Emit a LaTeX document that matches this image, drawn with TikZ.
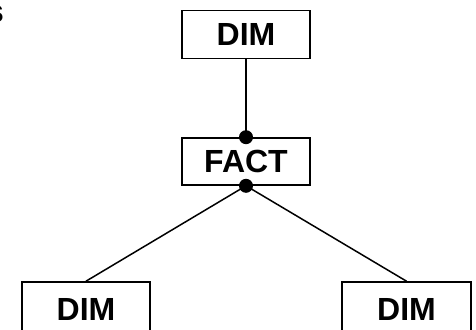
\documentclass[tikz,border=0pt]{standalone}
\usepackage{fontspec}
\setmainfont{Liberation Sans}
\begin{document}
\begin{tikzpicture}[x=1pt,y=-1pt,
  box/.style={draw,line width=1.6pt,minimum width=128pt,inner sep=0pt,font=\fontsize{32}{38}\selectfont\bfseries},
  link/.style={line width=1.5pt},
  dot/.style={circle,fill=black,minimum size=14pt,inner sep=0pt}]
\useasboundingbox (0,0) rectangle (476,329);
\node[box,minimum height=48pt] (top) at (246,34.5) {DIM};
\node[box,minimum height=47pt] (fact) at (246,161.5) {FACT};
\node[box,minimum height=54pt] (left) at (86,309) {DIM};
\node[box,minimum height=54pt,minimum width=129pt] (right) at (406.5,309) {DIM};
\node[anchor=base east,inner sep=0pt,font=\fontsize{32}{38}\selectfont\bfseries] (frag) at (4,23) {s};
\draw[link] (top.south) -- (fact.north);
\draw[link] (fact.south) -- (left.north);
\draw[link] (fact.south) -- (right.north);
\node[dot] (d1) at (fact.north) {};
\node[dot] (d2) at (fact.south) {};
\end{tikzpicture}
\end{document}
